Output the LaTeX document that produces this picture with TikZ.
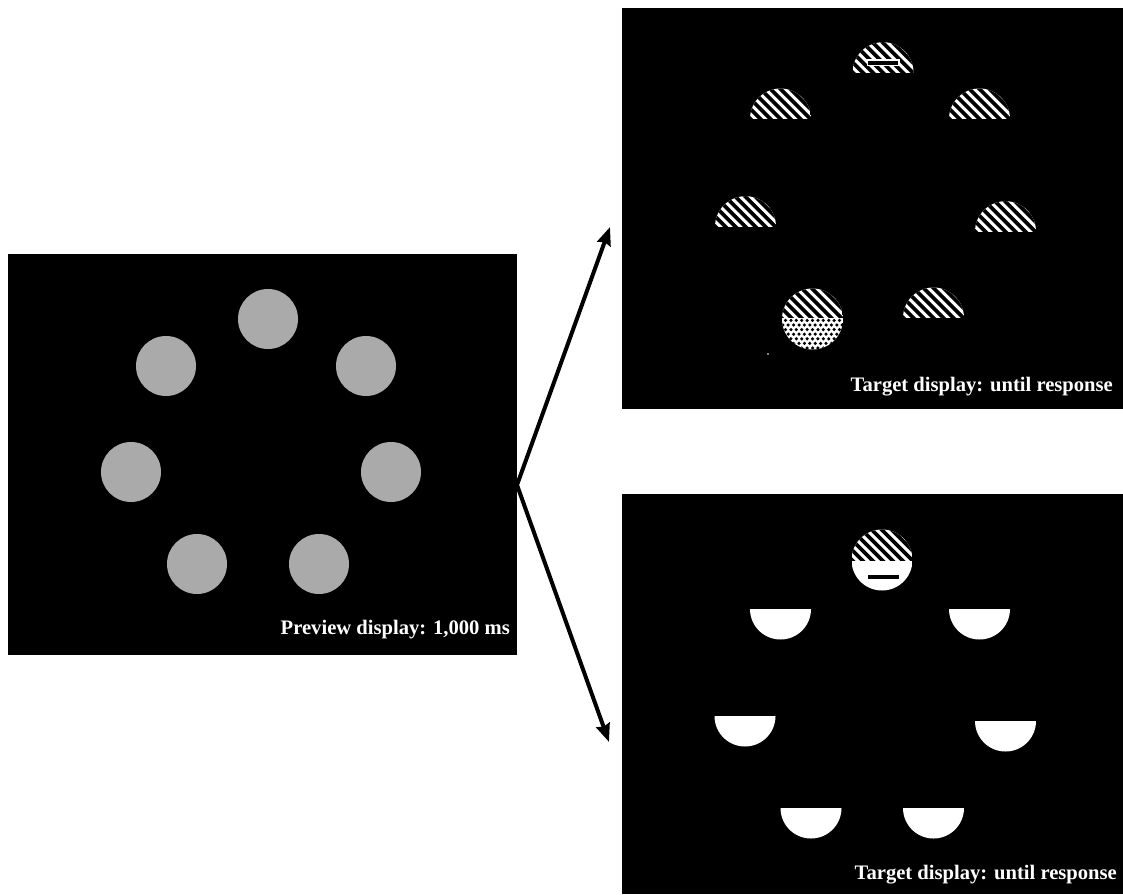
\documentclass[tikz,border=0pt]{standalone}
\usepackage{fontspec}
\setmainfont{Liberation Serif}
\usetikzlibrary{arrows.meta}
\definecolor{discgray}{RGB}{170,170,170}
\tikzset{
  panel/.style={fill=black, draw=none, inner sep=0pt, anchor=north west},
  disc/.style={fill=discgray, draw=none},
  paneltext/.style={text=white, font=\fontsize{20.6}{24}\selectfont\bfseries, inner sep=0pt, anchor=base east},
  flowarrow/.style={line width=4pt, -{Stealth[length=18pt,width=14pt,inset=2pt]}},
  stripe/.style={line width=3.7pt, black},
}
% hatched part of a disc: centre (#1,#2), radius #3, kept between y=#4 (top) and y=#5 (bottom)
\newcommand\hatchpart[5]{%
  \begin{scope}
    \clip (#1,#2) circle [radius=#3];
    \clip ({#1-#3},#4) rectangle ({#1+#3},#5);
    \fill[white] ({#1-#3},#4) rectangle ({#1+#3},#5);
    \foreach \k in {-100,-90,...,100} {
      \draw[stripe] ({#1+(\k)-45},{#2-45}) -- ({#1+(\k)+45},{#2+45});
    }
  \end{scope}}
% white part of a disc
\newcommand\whitepart[5]{%
  \begin{scope}
    \clip (#1,#2) circle [radius=#3];
    \fill[white] ({#1-#3},#4) rectangle ({#1+#3},#5);
  \end{scope}}
% dotted part of a disc
\newcommand\dotpart[5]{%
  \begin{scope}
    \clip (#1,#2) circle [radius=#3];
    \clip ({#1-#3},#4) rectangle ({#1+#3},#5);
    \fill[white] ({#1-#3},#4) rectangle ({#1+#3},#5);
    \foreach \r in {0,...,7} {
      \foreach \c in {-7,...,7} {
        \fill[black] ({#1+(\c)*5.4+mod(\r,2)*2.7},{#4+2.4+(\r)*4.6}) circle [radius=1.75];
      }
    }
  \end{scope}}
\begin{document}
\begin{tikzpicture}[x=1pt,y=-1pt]
  \fill[white] (0,0) rectangle (1123,894);
  \useasboundingbox (0,0) rectangle (1123,894);

  % panels
  \node[panel, minimum width=509pt, minimum height=401pt] (prev) at (8,254) {};
  \node[panel, minimum width=501pt, minimum height=401pt] (tgtA) at (622,8) {};
  \node[panel, minimum width=501pt, minimum height=400pt] (tgtB) at (622,494) {};

  % preview display discs
  \foreach \p in {(268,319),(166,366),(366,366),(131,472),(391,472),(197,564),(319,564)} {
    \fill[disc] \p circle [radius=30];
  }
  \node[paneltext] (prevlabel) at (510,634) {Preview display: 1,000 ms};

  % target display A (upper halves, hatched)
  \hatchpart{883}{72.7}{30.5}{40}{72.7}
  \fill[white] (866.5,59) rectangle (899.5,66);
  \fill[black] (868,60.5) rectangle (898,64.5);
  \hatchpart{780.5}{119}{30.5}{87}{119}
  \hatchpart{979.5}{119}{30.5}{87}{119}
  \hatchpart{745.5}{226.7}{30.5}{194}{226.7}
  \hatchpart{1005.5}{231.7}{30.5}{199}{231.7}
  \hatchpart{933.5}{318}{30.5}{286}{318}
  \hatchpart{812.5}{319}{30.5}{287}{318}
  \dotpart{812.5}{319}{30.5}{318}{351}
  \fill[white] (768,354) circle [radius=0.9];
  \node[paneltext] (labelA) at (1113,391) {Target display: until response};

  % target display B (lower halves, white)
  \hatchpart{882}{560}{30.5}{528}{561}
  \whitepart{882}{560}{30.5}{561}{592}
  \fill[black] (868,575) rectangle (899,579);
  \foreach \cx/\cy in {780.5/609,979.5/609,745/716,1005.5/721,811/808,933.5/808} {
    \begin{scope}
      \clip (\cx,\cy) circle [radius=30.5];
      \fill[white] ({\cx-31},\cy) rectangle ({\cx+31},{\cy+31});
    \end{scope}
  }
  \node[paneltext] (labelB) at (1117,879) {Target display: until response};

  % arrows
  \coordinate (apex) at (517,485);
  \coordinate (tipA) at (610,227);
  \coordinate (tipB) at (609,742);
  \draw[flowarrow] (apex) -- (tipA);
  \draw[flowarrow] (apex) -- (tipB);
\end{tikzpicture}
\end{document}
